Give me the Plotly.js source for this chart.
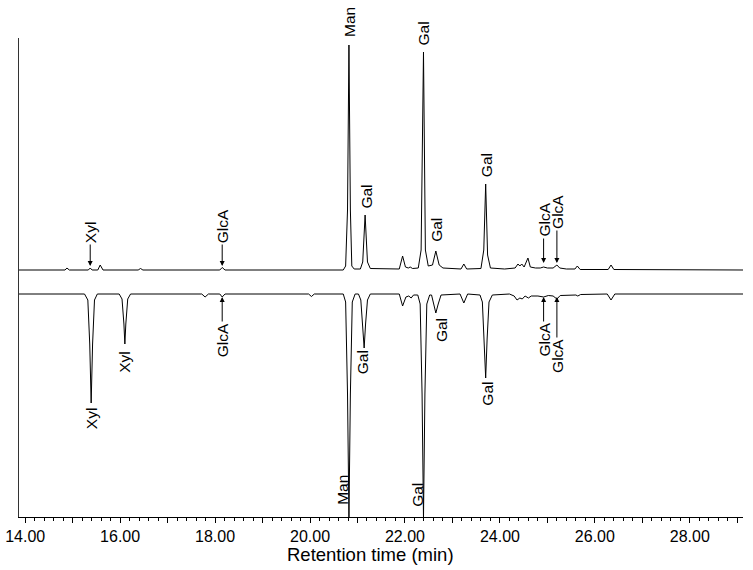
<!DOCTYPE html>
<html>
<head>
<meta charset="utf-8">
<script src="https://cdn.plot.ly/plotly-3.0.1.min.js"></script>
<style>
  html, body { margin: 0; padding: 0; background: #fff; }
  #chart { width: 753px; height: 570px; }
</style>
</head>
<body>
<div id="chart"></div>
<script>
// retention time (min) and detector signal, upper trace
var topTime = [13.87,
    14.84, 14.88, 14.93,
    15.33, 15.37, 15.41,
    15.53, 15.58, 15.64,
    16.38, 16.43, 16.48,
    18.10, 18.15, 18.21,
    20.70, 20.75, 20.79, 20.82, 20.85, 20.88, 20.93,
    21.06, 21.11, 21.16, 21.21, 21.27,
    21.88, 21.95, 22.01, 22.07, 22.11, 22.16,
    22.28, 22.34, 22.39, 22.43, 22.49,
    22.58, 22.65, 22.72, 22.80,
    23.18, 23.24, 23.30,
    23.60, 23.66, 23.70, 23.74, 23.80,
    24.10, 24.32, 24.38, 24.42, 24.46, 24.51, 24.59, 24.64, 24.75, 24.85, 24.92, 25.00,
    25.12, 25.20, 25.26, 25.40, 25.58, 25.63, 25.69,
    26.28, 26.34, 26.40,
    29.12];
var topSignal = [0,
    0, 2, 0,
    0, 2, 0,
    0, 5, 0,
    0, 1.5, 0,
    0, 2.5, 0,
    0, 4, 60, 225, 60, 4, 1,
    1, 8, 55, 8, 1.5,
    1, 14, 3, 2, 3, 1.5,
    2, 20, 218, 20, 4,
    5, 19, 5, 2,
    1, 6, 1,
    1.5, 20, 86, 15, 2,
    1, 2, 6, 4, 6, 3, 12, 3, 2, 2, 3, 2,
    2, 5, 2, 1, 1, 4, 0.5,
    0.5, 5, 0.5,
    0];

// lower trace (drawn inverted), depth below its own baseline
var bottomTime = [13.87,
    15.25, 15.32, 15.36, 15.39, 15.42, 15.46, 15.52,
    15.98, 16.04, 16.08, 16.10, 16.12, 16.16, 16.22,
    17.72, 17.79, 17.86,
    18.10, 18.15, 18.21,
    19.97, 20.03, 20.09,
    20.70, 20.75, 20.79, 20.82, 20.85, 20.89, 20.95,
    21.02, 21.07, 21.11, 21.14, 21.17, 21.21, 21.27,
    21.88, 21.95, 22.02, 22.08, 22.13, 22.18,
    22.27, 22.32, 22.36, 22.39, 22.42, 22.46, 22.52,
    22.56, 22.61, 22.65, 22.70, 22.76,
    23.16, 23.24, 23.32,
    23.58, 23.63, 23.67, 23.70, 23.73, 23.77, 23.84,
    24.20, 24.30, 24.36, 24.42, 24.47, 24.53, 24.60, 24.66, 24.80, 24.92, 25.02,
    25.12, 25.20, 25.27, 25.45, 25.60, 25.64, 25.70,
    26.26, 26.34, 26.42,
    29.12];
var bottomDepth = [0,
    0, 6, 50, 109, 50, 6, 0,
    0, 5, 30, 50, 30, 5, 0,
    0, 3, 0,
    0, 3, 0,
    0, 2.5, 0,
    0, 8, 100, 224, 100, 8, 0,
    0, 6, 30, 54, 30, 6, 0,
    0, 12, 3, 2, 4, 1,
    1, 10, 100, 224, 100, 10, 1,
    1, 10, 19, 10, 1,
    0, 9, 0,
    1, 8, 45, 84, 45, 8, 1,
    0, 2, 6, 4, 5, 2, 4, 2, 2, 3, 1.5,
    2, 5, 1.5, 1, 1, 2, 0.5,
    0, 6, 0,
    0];

var tickVals = [14, 15, 16, 17, 18, 19, 20, 21, 22, 23, 24, 25, 26, 27, 28, 29];
var tickText = ['14.00', '', '16.00', '', '18.00', '', '20.00', '', '22.00', '', '24.00', '', '26.00', '', '28.00', ''];

var gap = 24;  // vertical gap between the two baselines
var yMin = -247, yMax = 232;
var font = 'Arial, "Liberation Sans", sans-serif';

var data = [
    {
        x: topTime,
        y: topSignal,
        type: 'scatter',
        mode: 'lines',
        line: { color: '#000', width: 1 },
        showlegend: false,
        hoverinfo: 'skip'
    },
    {
        x: bottomTime,
        y: bottomDepth.map(function (d) { return -gap - d; }),
        type: 'scatter',
        mode: 'lines',
        line: { color: '#000', width: 1 },
        showlegend: false,
        hoverinfo: 'skip'
    }
];

// plain peak labels, rotated (paper y so labels above the range still show)
function label(txt, x, y) {
    return {
        text: txt, x: x, y: (y - yMin) / (yMax - yMin), xref: 'x', yref: 'paper',
        xanchor: 'center', yanchor: 'middle',
        textangle: -90, showarrow: false,
        font: { family: font, size: 15.5, color: '#000' }
    };
}
// labels with an arrow pointing at a small peak
function arrowLabel(txt, x, yText, yHead) {
    return {
        text: txt, x: x, y: yHead, xref: 'x', yref: 'y',
        ax: x, ay: yText, axref: 'x', ayref: 'y',
        textangle: -90, showarrow: true,
        arrowhead: 2, arrowsize: 1, arrowwidth: 1, arrowcolor: '#000',
        font: { family: font, size: 15.5, color: '#000' }
    };
}

var annotations = [
    label('Man', 20.82, 248),
    label('Gal', 21.17, 73),
    label('Gal', 22.37, 236),
    label('Gal', 22.65, 40),
    label('Gal', 23.71, 105),
    arrowLabel('Xyl', 15.37, 38, 4),
    arrowLabel('GlcA', 18.15, 44, 4),
    arrowLabel('GlcA', 24.92, 50, 7),
    arrowLabel('GlcA', 25.20, 58, 7),

    label('Xyl', 15.39, -148),
    label('Xyl', 16.10, -92),
    label('Gal', 21.12, -92),
    label('Gal', 22.76, -60),
    label('Gal', 23.72, -124),
    label('Man', 20.67, -220),
    label('Gal', 22.25, -225),
    arrowLabel('GlcA', 18.15, -70, -27),
    arrowLabel('GlcA', 24.92, -70, -27),
    arrowLabel('GlcA', 25.20, -86, -27),

    // axis title, placed by hand to sit where the original has it
    {
        text: 'Retention time (min)', xref: 'paper', yref: 'paper',
        x: 0.486, y: -0.079, xanchor: 'center', yanchor: 'middle', showarrow: false,
        font: { family: font, size: 18.5, color: '#000' }
    }
];

var layout = {
    width: 753,
    height: 570,
    margin: { l: 19, r: 10, t: 38, b: 53 },
    paper_bgcolor: '#fff',
    plot_bgcolor: '#fff',
    font: { family: font, color: '#000' },
    xaxis: {
        range: [13.87, 29.12],
        tickmode: 'array',
        tickvals: tickVals,
        ticktext: tickText,
        ticks: 'outside',
        ticklen: 5,
        tickwidth: 1,
        tickcolor: '#000',
        tickfont: { family: font, size: 16, color: '#000' },
        minor: { tickmode: 'linear', tick0: 14, dtick: 0.2, ticks: 'outside', ticklen: 3, tickcolor: '#000', tickwidth: 1 },
        showline: true,
        linecolor: '#000',
        linewidth: 1.2,
        showgrid: false,
        zeroline: false
    },
    yaxis: {
        range: [yMin, yMax],
        showline: true,
        linecolor: '#333',
        linewidth: 1.5,
        showticklabels: false,
        ticks: '',
        showgrid: false,
        zeroline: false
    },
    annotations: annotations
};

Plotly.newPlot('chart', data, layout, { staticPlot: true, displayModeBar: false });
</script>
</body>
</html>
